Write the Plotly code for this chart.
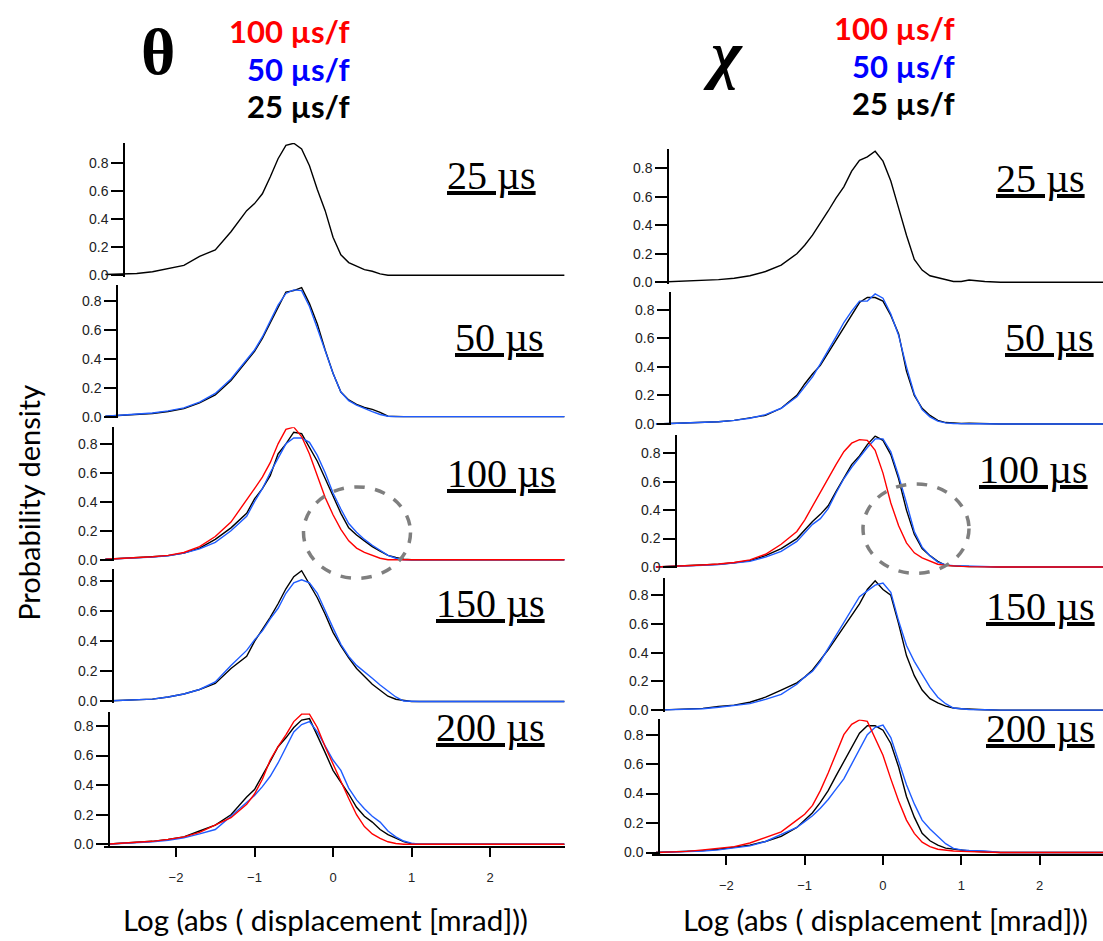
import plotly.graph_objects as go

# ---------------- data ----------------
X_GRID = [-2.9, -2.7, -2.5, -2.3, -2.1, -1.9, -1.7, -1.5, -1.3, -1.1,
          -1.0, -0.9, -0.8, -0.7, -0.6, -0.5, -0.4, -0.3, -0.2, -0.1,
          0.0, 0.1, 0.2, 0.3, 0.4, 0.5, 0.6, 0.7, 0.8, 0.9, 1.0, 1.1,
          1.3, 1.5, 2.95]

# theta column
th25_k = [0.005, 0.008, 0.012, 0.025, 0.045, 0.07, 0.135, 0.18, 0.31, 0.46,
          0.51, 0.58, 0.70, 0.83, 0.925, 0.94, 0.90, 0.78, 0.61, 0.46,
          0.27, 0.145, 0.09, 0.065, 0.04, 0.028, 0.01, 0.0, 0.0, 0.0, 0.0, 0.0,
          0.0, 0.0, 0.0]
th50_k = [0.003, 0.008, 0.015, 0.022, 0.035, 0.055, 0.095, 0.15, 0.25, 0.38,
          0.45, 0.54, 0.65, 0.76, 0.86, 0.87, 0.89, 0.78, 0.64, 0.46,
          0.30, 0.17, 0.115, 0.085, 0.063, 0.05, 0.03, 0.003, 0.0, 0.0, 0.0, 0.0,
          0.0, 0.0, 0.0]
th50_b = [0.003, 0.01, 0.017, 0.025, 0.04, 0.06, 0.1, 0.16, 0.26, 0.39,
          0.46, 0.55, 0.66, 0.77, 0.85, 0.875, 0.87, 0.76, 0.61, 0.45,
          0.30, 0.17, 0.11, 0.08, 0.055, 0.035, 0.015, 0.003, 0.0, 0.0, 0.0, 0.0,
          0.0, 0.0, 0.0]
th100_k = [0.003, 0.007, 0.012, 0.02, 0.028, 0.045, 0.08, 0.14, 0.22, 0.32,
           0.42, 0.49, 0.58, 0.73, 0.80, 0.88, 0.87, 0.78, 0.68, 0.56,
           0.44, 0.32, 0.22, 0.17, 0.13, 0.09, 0.06, 0.03, 0.015, 0.003, 0.0, 0.0,
           0.0, 0.0, 0.0]
th100_b = [0.003, 0.007, 0.012, 0.018, 0.027, 0.045, 0.075, 0.12, 0.2, 0.3,
           0.40, 0.49, 0.6, 0.7, 0.8, 0.84, 0.84, 0.81, 0.72, 0.6,
           0.46, 0.35, 0.25, 0.19, 0.14, 0.1, 0.065, 0.03, 0.01, 0.0, 0.0, 0.0,
           0.0, 0.0, 0.0]
th100_r = [0.003, 0.008, 0.013, 0.02, 0.03, 0.05, 0.09, 0.16, 0.26, 0.41,
           0.49, 0.57, 0.67, 0.80, 0.90, 0.915, 0.85, 0.73, 0.58, 0.43,
           0.31, 0.21, 0.13, 0.08, 0.05, 0.03, 0.01, 0.0, 0.0, 0.0, 0.0, 0.0,
           0.0, 0.0, 0.0]
th150_k = [0.003, 0.006, 0.01, 0.016, 0.03, 0.05, 0.08, 0.12, 0.22, 0.30,
           0.40, 0.48, 0.56, 0.65, 0.75, 0.83, 0.87, 0.78, 0.69, 0.58,
           0.46, 0.37, 0.29, 0.22, 0.17, 0.115, 0.075, 0.035, 0.015, 0.005, 0.0, 0.0,
           0.0, 0.0, 0.0]
th150_b = [0.003, 0.006, 0.01, 0.016, 0.03, 0.05, 0.08, 0.13, 0.24, 0.34,
           0.41, 0.47, 0.55, 0.62, 0.72, 0.79, 0.81, 0.79, 0.72, 0.6,
           0.49, 0.38, 0.3, 0.24, 0.2, 0.155, 0.11, 0.07, 0.03, 0.003, 0.0, 0.0,
           0.0, 0.0, 0.0]
th200_k = [0.0, 0.005, 0.012, 0.02, 0.033, 0.05, 0.09, 0.13, 0.2, 0.32,
           0.37, 0.46, 0.56, 0.66, 0.72, 0.79, 0.84, 0.85, 0.74, 0.62,
           0.5, 0.42, 0.34, 0.25, 0.19, 0.15, 0.1, 0.065, 0.04, 0.018, 0.003, 0.0,
           0.0, 0.0, 0.0]
th200_b = [0.0, 0.005, 0.01, 0.017, 0.027, 0.043, 0.07, 0.1, 0.19, 0.28,
           0.33, 0.39, 0.46, 0.55, 0.66, 0.76, 0.81, 0.83, 0.76, 0.66,
           0.57, 0.5, 0.38, 0.3, 0.24, 0.19, 0.15, 0.09, 0.05, 0.022, 0.008, 0.0,
           0.0, 0.0, 0.0]
th200_r = [0.0, 0.005, 0.012, 0.02, 0.033, 0.05, 0.08, 0.13, 0.18, 0.27,
           0.34, 0.44, 0.57, 0.66, 0.74, 0.83, 0.88, 0.88, 0.79, 0.66,
           0.54, 0.42, 0.31, 0.2, 0.12, 0.07, 0.04, 0.017, 0.005, 0.0, 0.0, 0.0,
           0.0, 0.0, 0.0]

# chi column
ch25_k = [0.0, 0.004, 0.006, 0.01, 0.018, 0.028, 0.045, 0.075, 0.12, 0.2,
          0.26, 0.33, 0.42, 0.50, 0.59, 0.67, 0.78, 0.856, 0.88, 0.92,
          0.85, 0.71, 0.52, 0.33, 0.16, 0.085, 0.045, 0.03, 0.02, 0.005, 0.005, 0.015,
          0.005, 0.0, 0.0]
ch50_k = [0.0, 0.003, 0.006, 0.01, 0.016, 0.025, 0.04, 0.06, 0.11, 0.2,
          0.28, 0.35, 0.41, 0.5, 0.59, 0.68, 0.77, 0.85, 0.885, 0.885,
          0.86, 0.76, 0.63, 0.37, 0.2, 0.11, 0.06, 0.025, 0.01, 0.005, 0.003, 0.005,
          0.003, 0.0, 0.0]
ch50_b = [0.0, 0.003, 0.006, 0.01, 0.016, 0.025, 0.04, 0.065, 0.11, 0.19,
          0.26, 0.33, 0.42, 0.51, 0.61, 0.71, 0.79, 0.86, 0.86, 0.91,
          0.88, 0.77, 0.62, 0.40, 0.21, 0.1, 0.05, 0.02, 0.008, 0.003, 0.002, 0.003,
          0.002, 0.0, 0.0]
ch100_k = [0.0, 0.004, 0.008, 0.012, 0.02, 0.03, 0.045, 0.08, 0.13, 0.2,
           0.26, 0.32, 0.37, 0.43, 0.53, 0.63, 0.72, 0.78, 0.86, 0.92,
           0.89, 0.79, 0.62, 0.40, 0.23, 0.13, 0.08, 0.04, 0.012, 0.008, 0.005, 0.004,
           0.003, 0.0, 0.0]
ch100_b = [0.0, 0.003, 0.007, 0.012, 0.018, 0.028, 0.04, 0.07, 0.11, 0.18,
           0.24, 0.3, 0.34, 0.41, 0.52, 0.62, 0.7, 0.77, 0.84, 0.9,
           0.9, 0.81, 0.64, 0.45, 0.25, 0.14, 0.08, 0.035, 0.015, 0.01, 0.008, 0.006,
           0.004, 0.0, 0.0]
ch100_r = [0.0, 0.004, 0.01, 0.015, 0.022, 0.032, 0.05, 0.09, 0.16, 0.25,
           0.33, 0.43, 0.52, 0.62, 0.72, 0.81, 0.87, 0.895, 0.89, 0.82,
           0.66, 0.45, 0.29, 0.17, 0.1, 0.065, 0.04, 0.02, 0.012, 0.007, 0.005, 0.003,
           0.0, 0.0, 0.0]
ch150_k = [0.0, 0.003, 0.007, 0.012, 0.025, 0.035, 0.055, 0.09, 0.14, 0.19,
           0.23, 0.28, 0.35, 0.42, 0.50, 0.58, 0.66, 0.74, 0.84, 0.9,
           0.84, 0.80, 0.60, 0.38, 0.24, 0.14, 0.08, 0.05, 0.028, 0.015, 0.01, 0.006,
           0.003, 0.0, 0.0]
ch150_b = [0.0, 0.003, 0.006, 0.01, 0.02, 0.03, 0.045, 0.075, 0.11, 0.18,
           0.23, 0.27, 0.34, 0.43, 0.52, 0.61, 0.7, 0.79, 0.83, 0.87,
           0.885, 0.82, 0.62, 0.45, 0.34, 0.25, 0.16, 0.09, 0.045, 0.015, 0.008, 0.005,
           0.003, 0.0, 0.0]
ch200_k = [0.0, 0.003, 0.007, 0.013, 0.022, 0.035, 0.05, 0.075, 0.11, 0.17,
           0.22, 0.27, 0.34, 0.42, 0.52, 0.62, 0.72, 0.81, 0.86, 0.86,
           0.83, 0.74, 0.58, 0.38, 0.24, 0.13, 0.08, 0.05, 0.03, 0.022, 0.015, 0.01,
           0.005, 0.0, 0.0]
ch200_b = [0.0, 0.003, 0.006, 0.01, 0.018, 0.03, 0.045, 0.075, 0.12, 0.17,
           0.21, 0.25, 0.3, 0.36, 0.43, 0.5, 0.6, 0.7, 0.8, 0.85,
           0.865, 0.78, 0.62, 0.46, 0.33, 0.22, 0.16, 0.11, 0.06, 0.028, 0.018, 0.014,
           0.01, 0.0, 0.0]
ch200_r = [0.0, 0.003, 0.008, 0.018, 0.028, 0.04, 0.065, 0.1, 0.14, 0.22,
           0.26, 0.32, 0.42, 0.54, 0.67, 0.8, 0.87, 0.9, 0.89, 0.78,
           0.66, 0.5, 0.35, 0.22, 0.13, 0.07, 0.04, 0.022, 0.015, 0.01, 0.008, 0.006,
           0.004, 0.0, 0.0]

PANEL_LABELS = ["25 µs", "50 µs", "100 µs", "150 µs", "200 µs"]
FRAME_LABELS = ["100 µs/f", "50 µs/f", "25 µs/f"]
Y_TICKS = [0.0, 0.2, 0.4, 0.6, 0.8]
X_TICKS = [-2, -1, 0, 1, 2]

theta_panels = [
    [("25", th25_k)],
    [("25", th50_k), ("50", th50_b)],
    [("25", th100_k), ("50", th100_b), ("100", th100_r)],
    [("25", th150_k), ("50", th150_b)],
    [("25", th200_k), ("50", th200_b), ("100", th200_r)],
]
chi_panels = [
    [("25", ch25_k)],
    [("25", ch50_k), ("50", ch50_b)],
    [("25", ch100_k), ("50", ch100_b), ("100", ch100_r)],
    [("25", ch150_k), ("50", ch150_b)],
    [("25", ch200_k), ("50", ch200_b), ("100", ch200_r)],
]

# ---------------- styling / geometry ----------------
W, H = 1103, 941
LINE_COLORS = {"25": "#000000", "50": "#1f5cff", "100": "#ff0000"}


def fx(p):
    return p / W


def fy(p):
    return 1 - p / H


# per column: x range, domain px, panels geometry (zero px, px per unit, top px, y-axis px)
COLUMNS = [
    dict(panels=theta_panels, xrange=[-2.92, 2.95], dom=(103.8, 564.6),
         geom=[(277, 141.3, 144, 124), (419.3, 145.8, 286.7, 117),
               (563.3, 145.8, 430, 113), (706, 151.3, 573, 113),
               (849.7, 148.8, 716.7, 109)],
         labels=[(491, 177), (499, 340), (501, 477), (490, 607), (490, 732)]),
    dict(panels=chi_panels, xrange=[-2.95, 2.81], dom=(652, 1103),
         geom=[(284, 143.3, 150, 668), (426.7, 143.8, 294, 670),
               (570.7, 143.3, 438, 676), (714.7, 144.6, 582, 664),
               (858, 148.3, 724, 659)],
         labels=[(1040, 180), (1049, 340), (1033, 473), (1040, 610), (1040, 733)]),
]
YMIN = -0.01

fig = go.Figure()
layout = dict(
    width=W, height=H, margin=dict(l=0, r=0, t=0, b=0),
    paper_bgcolor="white", plot_bgcolor="rgba(0,0,0,0)",
    showlegend=False, annotations=[], shapes=[],
)

idx = 0
for col in COLUMNS:
    for p, series in enumerate(col["panels"]):
        idx += 1
        zero, scale, top, axpx = col["geom"][p]
        xname = "xaxis" if idx == 1 else f"xaxis{idx}"
        yname = "yaxis" if idx == 1 else f"yaxis{idx}"
        xref = "x" if idx == 1 else f"x{idx}"
        yref = "y" if idx == 1 else f"y{idx}"
        bottom_px = zero - YMIN * scale
        ytop = (zero - top) / scale
        last = (p == len(col["panels"]) - 1)
        for key, vals in series:
            fig.add_trace(go.Scatter(
                x=X_GRID, y=vals, mode="lines", xaxis=xref, yaxis=yref,
                line=dict(color=LINE_COLORS[key], width=1.4),
                hoverinfo="skip"))
        layout[xname] = dict(
            domain=[fx(col["dom"][0]), min(1.0, fx(col["dom"][1]))],
            range=col["xrange"], anchor=yref,
            showgrid=False, zeroline=False,
            showline=last, linecolor="black", linewidth=1.5,
            ticks="outside" if last else "", ticklen=9, tickwidth=1.5,
            tickcolor="black",
            tickvals=X_TICKS if last else [], showticklabels=last,
            ticklabelstandoff=10,
            tickfont=dict(family="Liberation Sans, Arial", size=13, color="#222"),
        )
        layout[yname] = dict(
            domain=[fy(bottom_px), fy(top)], range=[YMIN, ytop],
            anchor="free", position=fx(axpx),
            showgrid=False, zeroline=False,
            showline=True, linecolor="black", linewidth=1.5,
            ticks="outside", ticklen=12, tickwidth=1.5, tickcolor="black",
            tickvals=Y_TICKS, ticktext=[f"{v:.1f}" for v in Y_TICKS],
            tickfont=dict(family="Liberation Sans, Arial", size=14, color="#222"),
        )
        lx, ly = col["labels"][p]
        layout["annotations"].append(dict(
            text=f"<u>{PANEL_LABELS[p]}</u>", x=fx(lx), y=fy(ly),
            xref="paper", yref="paper", xanchor="center", yanchor="middle",
            showarrow=False,
            font=dict(family="Liberation Serif, Times New Roman", size=40, color="black")))

# column headers
HEADER_FONT = "Lato, Calibri, Liberation Sans"
for sym, sx, sy, rx, ys in [("<b>θ</b>", 158, 52, 352, (31, 69, 107)),
                             ("<b><i>χ</i></b>", 723, 54, 957, (28, 66, 104))]:
    layout["annotations"].append(dict(
        text=sym, x=fx(sx), y=fy(sy), xref="paper", yref="paper",
        xanchor="center", yanchor="middle", showarrow=False,
        font=dict(family="Liberation Serif, Times New Roman", size=66, color="black")))
    for lab, yy, colr in zip(FRAME_LABELS, ys, ["#ff0000", "#0000ff", "#000000"]):
        layout["annotations"].append(dict(
            text=f"<b>{lab}</b>", x=fx(rx), y=fy(yy), xref="paper", yref="paper",
            xanchor="right", yanchor="middle", showarrow=False,
            font=dict(family=HEADER_FONT, size=31, color=colr)))

# axis titles
TITLE_FONT = "Lato, Calibri, Liberation Sans"
layout["annotations"].append(dict(
    text="Probability density", x=fx(29), y=fy(506), xref="paper", yref="paper",
    xanchor="center", yanchor="middle", textangle=-90, showarrow=False,
    font=dict(family=TITLE_FONT, size=29, color="black")))
for cx in (325, 885):
    layout["annotations"].append(dict(
        text="Log (abs ( displacement [mrad]))", x=fx(cx), y=fy(925),
        xref="paper", yref="paper", xanchor="center", yanchor="middle",
        showarrow=False, font=dict(family=TITLE_FONT, size=29.5, color="black")))

# dashed ellipses highlighting the tails
for cx, cy, w, h in [(357, 536, 107, 92), (916, 532, 106, 90)]:
    layout["shapes"].append(dict(
        type="circle", xref="paper", yref="paper",
        x0=fx(cx - w / 2), x1=fx(cx + w / 2), y0=fy(cy + h / 2), y1=fy(cy - h / 2),
        line=dict(color="#7f7f7f", width=3.5, dash="dash")))

fig.update_layout(**layout)
fig.write_html("out.html", config={"displayModeBar": False},
               post_script="document.body.style.margin='0';")
